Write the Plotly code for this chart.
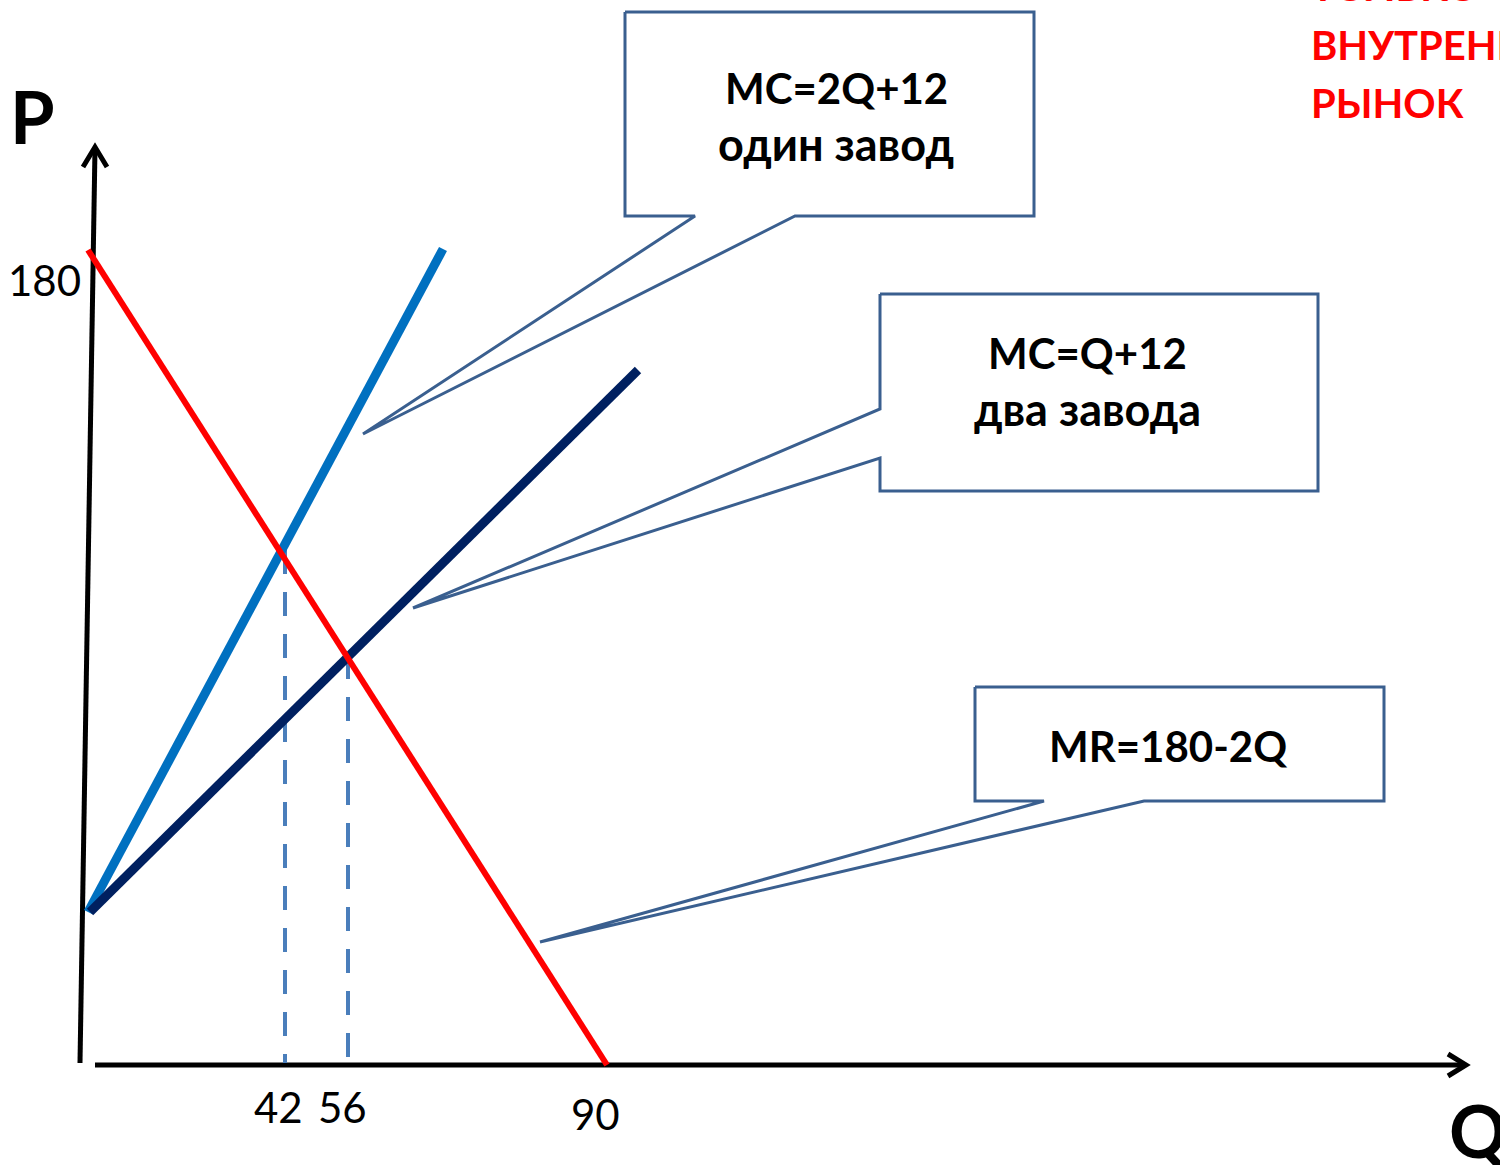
import plotly.graph_objects as go

# ---- data (positions in the drawing's coordinate frame) ----
# axes
y_axis_x = [80, 95]
y_axis_y = [1063, 148]
y_arrow_x = [83, 95, 107]
y_arrow_y = [167, 147, 167]
x_axis_x = [95, 1466]
x_axis_y = [1065, 1065]
x_arrow_x = [1448, 1466, 1448]
x_arrow_y = [1054, 1065, 1076]

# curves
mr_x = [88, 607]
mr_y = [250, 1065]
mc_one_x = [88, 443]
mc_one_y = [912, 249]
mc_two_x = [90, 638]
mc_two_y = [912, 370]

# dashed guides (Q = 42 and Q = 56)
guide_q_x = [285, 348]
guide_top_y = [550, 655]
guide_bottom_y = 1063

# tick labels
tick_labels = ["180", "42", "56", "90"]
tick_x = [44, 278, 342, 595]
tick_y = [280, 1107, 1107, 1114]

# callouts: box + pointer polygons
call1_x = [625, 1034, 1034, 795, 363, 695, 625, 625]
call1_y = [12, 12, 216, 216, 434, 216, 216, 12]
call2_x = [880, 1318, 1318, 880, 880, 413, 880, 880]
call2_y = [294, 294, 491, 491, 458, 608, 409, 294]
call3_x = [975, 1384, 1384, 1144, 540, 1044, 975, 975]
call3_y = [687, 687, 801, 801, 942, 801, 801, 687]

call_texts = ["MC=2Q+12", "один завод", "MC=Q+12", "два завода", "MR=180-2Q"]
call_text_x = [836, 836, 1087, 1087, 1168]
call_text_y = [88, 144, 353, 409, 746]
call_text_size = [42, 45, 42, 45, 42]

red_lines = ["ТОЛЬКО", "ВНУТРЕННИЙ", "РЫНОК"]
red_x = [1309, 1309, 1309]
red_y = [-14, 45, 103]

W, H = 1500, 1165
FONT = "Lato"

fig = go.Figure()

def line(xs, ys, color, width, dash=None):
    fig.add_trace(go.Scatter(x=xs, y=ys, mode="lines",
                             line=dict(color=color, width=width, dash=dash),
                             hoverinfo="skip", showlegend=False))

# axes
line(y_axis_x, y_axis_y, "black", 5)
line(y_arrow_x, y_arrow_y, "black", 5)
line(x_axis_x, x_axis_y, "black", 5)
line(x_arrow_x, x_arrow_y, "black", 5)

# dashed guides
for gx, gy in zip(guide_q_x, guide_top_y):
    line([gx, gx], [gy, guide_bottom_y], "#4A7EBB", 4, "24px,18px")

# curves
line(mc_one_x, mc_one_y, "#0070C0", 9)
line(mc_two_x, mc_two_y, "#002060", 9)
line(mr_x, mr_y, "#FF0000", 6)

# callouts
for cx, cy in [(call1_x, call1_y), (call2_x, call2_y), (call3_x, call3_y)]:
    fig.add_trace(go.Scatter(x=cx, y=cy, mode="lines", fill="toself",
                             fillcolor="white",
                             line=dict(color="#3A5F8F", width=3),
                             hoverinfo="skip", showlegend=False))

for t, x, y, s in zip(call_texts, call_text_x, call_text_y, call_text_size):
    fig.add_annotation(x=x, y=y, text="<b>%s</b>" % t, showarrow=False,
                       xanchor="center", yanchor="middle",
                       font=dict(family=FONT, size=s, color="black"))

for t, x, y in zip(tick_labels, tick_x, tick_y):
    fig.add_annotation(x=x, y=y, text=t, showarrow=False,
                       xanchor="center", yanchor="middle",
                       font=dict(family=FONT, size=42, color="black"))

fig.add_annotation(x=32, y=116, text="<b>P</b>", showarrow=False,
                   xanchor="center", yanchor="middle",
                   font=dict(family=FONT, size=72, color="black"))
fig.add_annotation(x=1478, y=1130, text="<b>Q</b>", showarrow=False,
                   xanchor="center", yanchor="middle",
                   font=dict(family=FONT, size=72, color="black"))

# red note (first line sits above the top edge, so use paper coordinates)
for t, x, y in zip(red_lines, red_x, red_y):
    fig.add_annotation(x=x / W, y=1 - y / H, xref="paper", yref="paper",
                       text="<b>%s</b>" % t, showarrow=False,
                       xanchor="left", yanchor="middle",
                       font=dict(family=FONT, size=40, color="#FF0000"))

fig.update_layout(
    width=W, height=H,
    margin=dict(l=0, r=0, t=0, b=0),
    paper_bgcolor="white", plot_bgcolor="white",
    xaxis=dict(range=[0, W], visible=False, fixedrange=True),
    yaxis=dict(range=[H, 0], visible=False, fixedrange=True),
)

fig.write_html("out.html",
               config={"displayModeBar": False},
               post_script="document.body.style.margin='0';document.body.style.overflow='hidden';")
